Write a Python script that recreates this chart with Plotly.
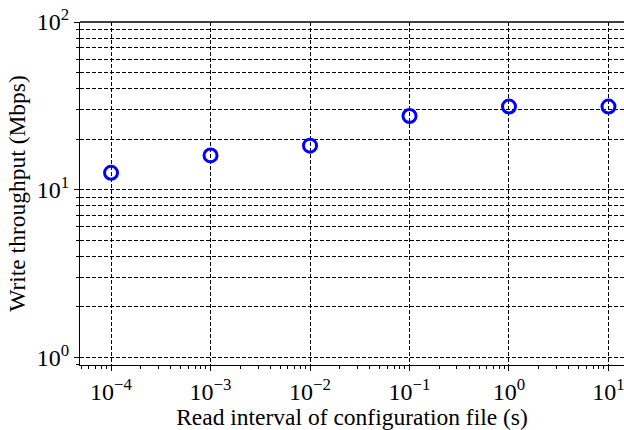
import plotly.graph_objects as go

# Data
read_interval = [1e-4, 1e-3, 1e-2, 1e-1, 1e0, 1e1]
write_throughput = [12.6, 16.0, 18.3, 27.5, 31.3, 31.3]

x_tickvals = [1e-4, 1e-3, 1e-2, 1e-1, 1e0, 1e1]
x_ticktext = ["10<sup>−4</sup>", "10<sup>−3</sup>", "10<sup>−2</sup>",
              "10<sup>−1</sup>", "10<sup>0</sup>", "10<sup>1</sup>"]
y_tickvals = [1, 10, 100]
y_ticktext = ["10<sup>0</sup>", "10<sup>1</sup>", "10<sup>2</sup>"]

FONT = "Liberation Serif, Times New Roman, serif"

fig = go.Figure()
fig.add_trace(go.Scatter(
    x=read_interval, y=write_throughput, mode="markers",
    marker=dict(symbol="circle-open", size=13, color="#0000ff",
                line=dict(width=3, color="#0000ff")),
    cliponaxis=False, showlegend=False,
))

grid_kw = dict(gridcolor="black", gridwidth=1, griddash="4px,2px")

fig.update_xaxes(
    type="log", range=[-4.312, 1.156],
    tickvals=x_tickvals, ticktext=x_ticktext,
    ticklabeloverflow="allow",
    showline=True, linecolor="black", linewidth=1.3,
    ticks="outside", ticklen=5, tickwidth=1.2, tickcolor="black",
    showgrid=True, **grid_kw,
    minor=dict(dtick="D1", ticks="outside", ticklen=3, tickwidth=1,
               tickcolor="black", showgrid=False),
    zeroline=False,
    tickfont=dict(family=FONT, size=24, color="black"),
    title=dict(text="Read interval of configuration file (s)",
               font=dict(family=FONT, size=23.5, color="black"), standoff=6),
)
fig.update_yaxes(
    type="log", range=[-0.046, 2.0],
    tickvals=y_tickvals, ticktext=y_ticktext,
    ticklabeloverflow="allow",
    showline=True, linecolor="black", linewidth=1.3,
    ticks="outside", ticklen=5, tickwidth=1.2, tickcolor="black",
    showgrid=True, **grid_kw,
    minor=dict(dtick="D1", ticks="outside", ticklen=3, tickwidth=1,
               tickcolor="black", showgrid=True, **grid_kw),
    zeroline=False,
    tickfont=dict(family=FONT, size=24, color="black"),
    title=dict(text="Write throughput (Mbps)",
               font=dict(family=FONT, size=23.5, color="black"), standoff=4),
)

fig.add_shape(type="line", xref="paper", yref="paper", x0=0, x1=1, y0=1, y1=1,
              line=dict(color="black", width=1.3))

fig.update_layout(
    width=624, height=430,
    margin=dict(l=80, r=0, t=22, b=65),
    paper_bgcolor="white", plot_bgcolor="white",
    font=dict(family=FONT, color="black"),
)

fig.write_html("out.html")
